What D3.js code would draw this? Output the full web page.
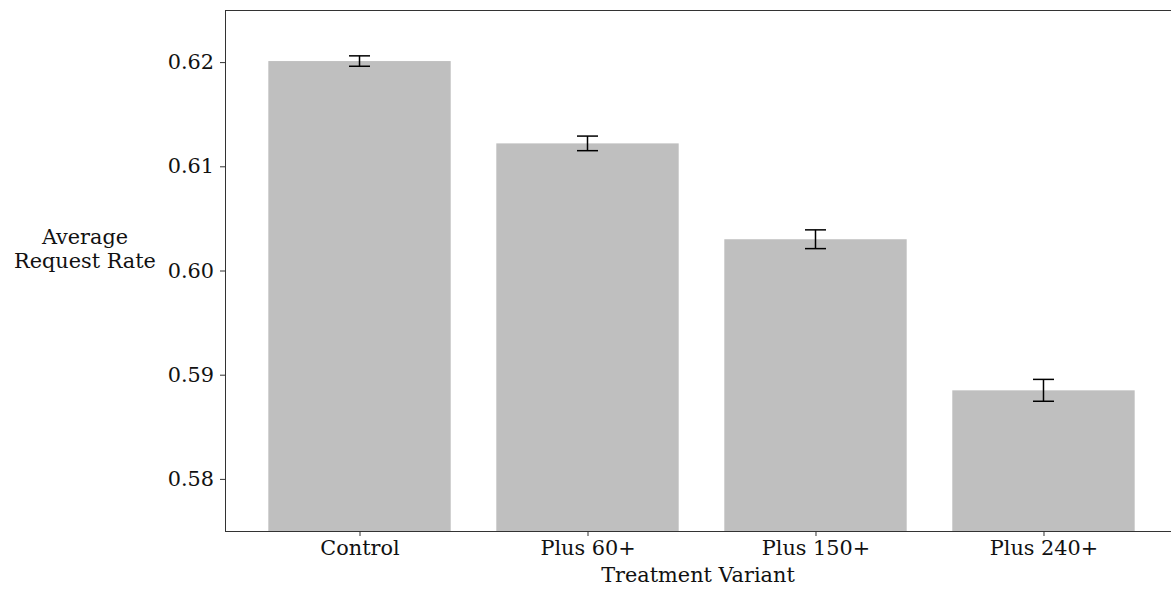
<!DOCTYPE html>
<html>
<head>
<meta charset="utf-8">
<script src="https://cdn.jsdelivr.net/npm/d3@7"></script>
<style>
body { margin: 0; background: #fff; }
text { font-family: "DejaVu Serif", serif; fill: #111; }
</style>
</head>
<body>
<script>
var width = 1171, height = 590;

var categories = ["Control", "Plus 60+", "Plus 150+", "Plus 240+"];
var rates = [0.6201, 0.6122, 0.6030, 0.5885];
var errors = [0.0005, 0.0007, 0.0009, 0.00105];
var yTicks = [0.58, 0.59, 0.60, 0.61, 0.62];

var plotLeft = 225, plotTop = 10, plotBottom = 531;

var svg = d3.select("body").append("svg")
            .attr("width", width).attr("height", height);

// bar positions by index, like matplotlib (width 0.8, 5% margins)
var x = d3.scaleLinear().domain([-0.59, 3.59]).range([plotLeft, 1178]);
var y = d3.scaleLinear().domain([0.575, 0.625]).range([plotBottom, plotTop]);

// bars
svg.append("g").selectAll("rect").data(categories).enter().append("rect")
   .attr("x", function(d, i){ return x(i - 0.4); })
   .attr("width", function(d, i){ return x(i + 0.4) - x(i - 0.4); })
   .attr("y", function(d, i){ return y(rates[i]); })
   .attr("height", function(d, i){ return y(0.575) - y(rates[i]); })
   .attr("fill", "#bfbfbf");

// error bars
var eb = svg.append("g").selectAll("g").data(categories).enter().append("g")
            .attr("stroke", "#000").attr("stroke-width", 1.5);
eb.append("line")
  .attr("x1", function(d, i){ return x(i); })
  .attr("x2", function(d, i){ return x(i); })
  .attr("y1", function(d, i){ return y(rates[i] - errors[i]); })
  .attr("y2", function(d, i){ return y(rates[i] + errors[i]); });
[-1, 1].forEach(function(s){
  eb.append("line")
    .attr("x1", function(d, i){ return x(i) - 10.5; })
    .attr("x2", function(d, i){ return x(i) + 10.5; })
    .attr("y1", function(d, i){ return y(rates[i] + s*errors[i]); })
    .attr("y2", function(d, i){ return y(rates[i] + s*errors[i]); });
});

// axes
var yAxis = svg.append("g").attr("transform", "translate(" + plotLeft + ",0)")
   .call(d3.axisLeft(y).tickValues(yTicks).tickSize(5).tickPadding(6)
         .tickFormat(function(d){ return d3.format(".2f")(d); }));
var xAxis = svg.append("g").attr("transform", "translate(0," + plotBottom + ")")
   .call(d3.axisBottom(x).tickValues([0, 1, 2, 3]).tickSize(5).tickPadding(4)
         .tickFormat(function(d){ return categories[d]; }));

[yAxis, xAxis].forEach(function(a){
  a.selectAll("text").style("font-size", "20.8px").attr("fill", "#111");
  a.selectAll("line").attr("stroke", "#333");
  a.select(".domain").attr("stroke", "#333");
});
yAxis.select(".domain").attr("d", "M0.5," + plotBottom + "V" + plotTop);
xAxis.select(".domain").attr("d", "M" + plotLeft + ",0.5H" + width);

// top spine
svg.append("line").attr("x1", plotLeft).attr("x2", width)
   .attr("y1", plotTop + 0.5).attr("y2", plotTop + 0.5)
   .attr("stroke", "#333");

// labels
svg.append("text").attr("x", 698).attr("y", 582)
   .attr("text-anchor", "middle").style("font-size", "20.8px")
   .text("Treatment Variant");

var yl = svg.append("text").attr("text-anchor", "middle").style("font-size", "20.8px");
yl.append("tspan").attr("x", 85).attr("y", 244).text("Average");
yl.append("tspan").attr("x", 85).attr("y", 268).text("Request Rate");
</script>
</body>
</html>
